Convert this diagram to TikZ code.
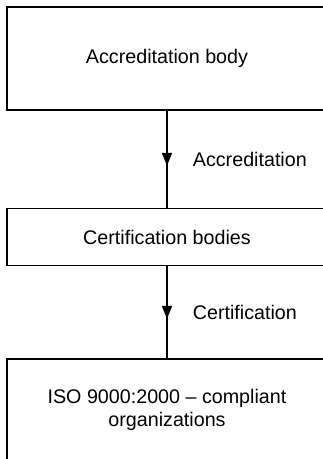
\documentclass[tikz,border=0pt]{standalone}
\usepackage{fontspec}
\setmainfont{Liberation Sans}
\usetikzlibrary{positioning,arrows.meta,decorations.markings}
\tikzset{
	org-box/.style={
		draw,
		rectangle,
		line width=1.6pt,
		minimum width=320pt,
		minimum height=#1,
		align=center,
		font=\fontsize{19.7pt}{23.5pt}\selectfont
	},
	org-box/.default=57pt,
	flow/.style={
		draw,
		line width=1.8pt,
		postaction={decorate},
		decoration={markings,
			mark=at position 0.5 with {\arrow[xshift=6.5pt]{Triangle[length=13pt,width=10pt]}}}
	},
	flow-label/.style={
		anchor=west,
		xshift=25pt,
		inner sep=0pt,
		font=\fontsize{19.7pt}{23.5pt}\selectfont
	},
}
\begin{document}
\begin{tikzpicture}[x=1pt,y=1pt]
		\useasboundingbox (0,0) rectangle (323,-459);
		\node[org-box=103pt] (accbody) at (167,-58.5) {Accreditation body};
		\node[below= 97pt of accbody,org-box] (certbodies) {Certification bodies};
		\node[below= 92pt of certbodies,org-box=101pt] (isoorgs) {ISO 9000:2000 -- compliant\\organizations};
		\draw[flow] (accbody) -- node[flow-label] {Accreditation} (certbodies);
		\draw[flow] (certbodies) -- node[flow-label] {Certification} (isoorgs);
	\end{tikzpicture}
\end{document}
